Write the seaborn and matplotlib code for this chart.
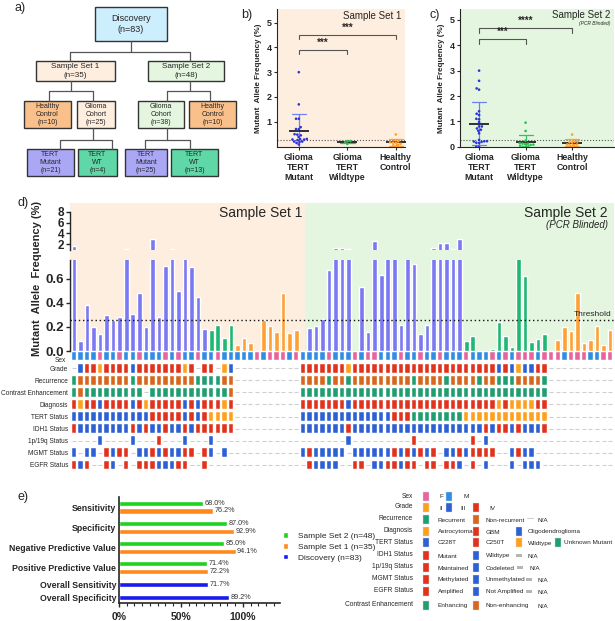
import numpy as np
import pandas as pd
import seaborn as sns
import matplotlib.pyplot as plt
from matplotlib.patches import Rectangle
from matplotlib.ticker import MultipleLocator

sns.set_style('ticks')
plt.rcParams['font.family'] = ['Liberation Sans', 'DejaVu Sans']

W, H = 615, 621

# ---- mutant allele frequency (%) per sample, in panel d order ----
set1_mutant = [1.7, 0.083, 0.386, 0.20, 0.144, 0.297, 0.26, 0.28, 1.12, 0.305, 0.48,
               0.20, 3.0, 0.283, 0.705, 1.12, 0.497, 0.78, 0.70, 0.45, 0.186]
set1_wildtype = [0.172, 0.22, 0.105, 0.22]
set1_healthy = [0.053, 0.108, 0.064, 0.0, 0.255, 0.205, 0.158, 0.486, 0.153, 0.172]
set2_mutant = [0.0, 0.19, 0.205, 0.27, 0.67, 1.3, 1.25, 1.08, 0.0, 0.53, 0.158, 2.6, 0.63,
               0.8, 0.8, 0.214, 0.97, 0.72, 0.144, 0.22, 1.4, 2.3, 2.25, 1.1, 3.0]
set2_wildtype = [0.083, 0.122, 0.0, 0.0, 0.014, 0.24, 0.122, 0.033, 0.95, 0.62, 0.072, 0.103, 0.139]
set2_healthy = [0.0, 0.089, 0.2, 0.164, 0.48, 0.067, 0.089, 0.205, 0.053, 0.172]
threshold = 0.26

# ---- clinical annotation per sample (N = not available) ----
na10 = "NNNNNNNNNN"
sex_codes = "MMMMFMMFMMFMMMFMFMMFMMFMM" "MMMFMFFFMF" "MMMMFMMMFMFFMMMFMMFMMFMMMFMMMFMFMFFFMF" "FFMFFFMMFF"
grade_codes = "N344244443444444424N44N23" + na10 + "44444442" "4444444444444444444444" "34323344" + na10
recur_codes = "RnnnnnnnnRnnnnnnnnnRRRRnn" + na10 + "nnnnRnnRnnnnnnnnnRnnnnRnnnnRnnRRRnnnnR" + na10
contrast_codes = "ExEEEEEEEEENEEEEEEEEEEEEx" + na10 + "EEEEEEEEEEEEEEEEEEEEEEEEEEEEEEEEEEEEEE" + na10
diag_codes = "GAGGOGGGGOGAGGGGGOGOGGGAG" + na10 + "GGGGGGGO" "GGGGGGGGGGGGGGGGGGGGGG" "AGAAAAGG" + na10
tert_codes = "bbbbbbbbbbbbrrrrrbrbrwwww" + na10 + "bbbbbbbbbbbbbbrrruuuuuuuuwwwwwwwwwwwww" + na10
idh_codes = "mWWWWWWWWmWmWWmWWmWmmmmmm" + na10 + "WWWWWWWmWWWWWWWWWWWWWWWWWWWWmWmmWmWWWm" + na10
codel_codes = "NNNNCNNNNCNNNMNNNCNNNCNNN" + na10 + "NNNNNNNCNNNNNNNNNMNNNNNNNNMNCNNNNNNNNN" + na10
mgmt_codes = "uNuuNmummNuumumuummNmuNuN" + na10 + "umuuuuuNuuuuuumumumumNuumummmmNNumuuNN" + na10
egfr_codes = "anaNNanNaNaaannnaaNNaNNNN" + na10 + "NannnnNNaaNnnaanaaNaaNaanNaNnNNNnNnnnN" + na10

# ---- panel e ----
metrics = ['Sensitivity', 'Specificity', 'Negative Predictive Value',
           'Positive Predictive Value', 'Overall Sensitivity', 'Overall Specificity']
set2_perf = [68.0, 87.0, 85.0, 71.4]
set1_perf = [76.2, 92.9, 94.1, 72.2]
discovery_perf = [71.7, 89.2]

# colours
PINK, SKY, ORANGE, BLUE, RED = '#e8649f', '#2f8de4', '#ffa01c', '#2c60d4', '#e2321d'
GREEN, DKORANGE, NAGRAY = '#1f9e70', '#d9661a', '#cfcfcf'
PEACH, MINT = '#fdeee0', '#e4f6df'
BAR_PAL = {'Mutant': '#7a78f2', 'Wildtype': '#1db872', 'Healthy': '#ffa035'}
DOT_PAL = {'Mutant': '#2a35dc', 'Wildtype': '#2dbf55', 'Healthy': '#ffa030'}
ERR_PAL = {'Mutant': '#7080f0', 'Wildtype': '#33c060', 'Healthy': '#ff9f30'}
E_PAL = {'Sample Set 2 (n=48)': '#1ed21e', 'Sample Set 1 (n=35)': '#ff8a1a',
         'Discovery (n=83)': '#1a1aee'}

maf = set1_mutant + set1_wildtype + set1_healthy + set2_mutant + set2_wildtype + set2_healthy
groups = (['Mutant'] * len(set1_mutant) + ['Wildtype'] * len(set1_wildtype) + ['Healthy'] * len(set1_healthy)
          + ['Mutant'] * len(set2_mutant) + ['Wildtype'] * len(set2_wildtype) + ['Healthy'] * len(set2_healthy))
n1 = len(set1_mutant) + len(set1_wildtype) + len(set1_healthy)
sets = ['Set 1'] * n1 + ['Set 2'] * (len(maf) - n1)
df = pd.DataFrame({'idx': range(len(maf)), 'maf': maf, 'group': groups, 'set': sets})
N = len(df)

fig = plt.figure(figsize=(6.15, 6.21), dpi=100)


def px_axes(x0, y0, x1, y1):
    return fig.add_axes([x0 / W, 1 - y1 / H, (x1 - x0) / W, (y1 - y0) / H])


GROUPS = ['Mutant', 'Wildtype', 'Healthy']
GROUP_LABELS = ['Glioma\nTERT\nMutant', 'Glioma\nTERT\nWildtype', 'Healthy\nControl']


def dot_panel(ax, sub, bg, xlim, ylim, yticks, sig):
    ax.set_facecolor(bg)
    ax.axhline(threshold, color='#555555', ls=':', lw=0.8, zorder=1)
    sns.swarmplot(data=sub, x='group', y='maf', hue='group', order=GROUPS, hue_order=GROUPS,
                  palette=DOT_PAL, size=1.9, legend=False, ax=ax, zorder=3)
    sns.pointplot(data=sub, x='group', y='maf', hue='group', order=GROUPS, hue_order=GROUPS,
                  palette=ERR_PAL, errorbar='sd', capsize=0.3, linestyle='none', markersize=0,
                  err_kws={'linewidth': 0.9}, legend=False, ax=ax)
    sns.pointplot(data=sub, x='group', y='maf', order=GROUPS, errorbar=None, color='#222222',
                  marker='_', markersize=14, markeredgewidth=1.3, linestyle='none', ax=ax)
    for (a, b, y, txt) in sig:
        ax.plot([a, a, b, b], [y - 0.18, y, y, y - 0.18], color='#555555', lw=0.8)
        ax.text((a + b) / 2, y + 0.08, txt, ha='center', va='bottom', fontsize=7, fontweight='bold')
    ax.set_xlim(*xlim)
    ax.set_ylim(*ylim)
    ax.set_yticks(yticks)
    ax.set_yticklabels([str(t) for t in yticks], fontsize=6.5, fontweight='bold')
    ax.set_xticks(range(3))
    ax.set_xticklabels(GROUP_LABELS, fontsize=6.3, fontweight='bold', linespacing=1.2)
    ax.set_xlabel('')
    ax.set_ylabel('Mutant  Allele Frequency (%)', fontsize=5.8, fontweight='bold', labelpad=3)
    ax.tick_params(length=2, width=0.8, pad=2)
    sns.despine(ax=ax)
    for s in ('left', 'bottom'):
        ax.spines[s].set_linewidth(0.8)


# ---- panel b ----
ax_b = px_axes(277, 9, 405, 147)
dot_panel(ax_b, df[df.set == 'Set 1'], PEACH, (-0.45, 2.19), (-0.02, 5.55), [1, 2, 3, 4, 5],
          [(0, 2, 4.5, '***'), (0, 1, 3.9, '***')])

# ---- panel c ----
ax_c = px_axes(460, 9, 614, 147)
dot_panel(ax_c, df[df.set == 'Set 2'], MINT, (-0.41, 2.9), (-0.01, 5.43), [0, 1, 2, 3, 4, 5],
          [(0, 2, 4.67, '****'), (0, 1, 4.24, '***')])

# ---- panel d ----
XL = (-0.6, N - 0.4)
split = n1 + 0.4
ax_bg = px_axes(70, 203, 614, 351)
ax_bg.set_xlim(*XL)
ax_bg.axvspan(XL[0], split, color=PEACH, lw=0)
ax_bg.axvspan(split, XL[1], color=MINT, lw=0)
ax_bg.axis('off')

ax_top = px_axes(70, 203, 614, 250)
ax_bot = px_axes(70, 260, 614, 351)
for ax in (ax_top, ax_bot):
    ax.set_facecolor('none')
    sns.barplot(data=df, x='idx', y='maf', hue='group', order=list(range(N)), palette=BAR_PAL,
                dodge=False, width=0.7, errorbar=None, saturation=1, legend=False, ax=ax)
    ax.set_xlim(*XL)
    ax.set_xticks([])
    ax.set_xlabel('')
    ax.set_ylabel('')
    for s in ('top', 'right', 'bottom'):
        ax.spines[s].set_visible(False)
    ax.spines['left'].set_linewidth(1.0)
    ax.tick_params(axis='y', length=3, width=1.0, pad=1)

ax_top.set_ylim(0.95, 9.6)
ax_top.set_yticks([2, 4, 6, 8])
ax_top.set_yticklabels(['2', '4', '6', '8'], fontsize=8.5, fontweight='bold')
ax_top.spines['left'].set_bounds(0.95, 8)
for lab in ax_top.get_yticklabels():
    lab.set_linespacing(0.8)

ax_bot.set_ylim(0, 0.756)
ax_bot.set_yticks([0, 0.2, 0.4, 0.6])
ax_bot.set_yticklabels(['0.0', '0.2', '0.4', '0.6'], fontsize=9.5, fontweight='bold')
ax_bot.axhline(threshold, color='#111111', ls=(0, (1, 2)), lw=1.0)

# annotation rows
rows = [
    ('Sex', sex_codes, {'F': PINK, 'M': SKY}),
    ('Grade', grade_codes, {'2': ORANGE, '3': BLUE, '4': RED}),
    ('Recurrence', recur_codes, {'R': GREEN, 'n': DKORANGE}),
    ('Contrast Enhancement', contrast_codes, {'E': GREEN, 'x': DKORANGE}),
    ('Diagnosis', diag_codes, {'A': ORANGE, 'G': RED, 'O': BLUE}),
    ('TERT Status', tert_codes, {'b': BLUE, 'r': RED, 'w': ORANGE, 'u': GREEN}),
    ('IDH1 Status', idh_codes, {'m': RED, 'W': BLUE}),
    ('1p/19q Status', codel_codes, {'M': RED, 'C': BLUE}),
    ('MGMT Status', mgmt_codes, {'m': RED, 'u': BLUE}),
    ('EGFR Status', egfr_codes, {'a': RED, 'n': BLUE}),
]
records = []
for r, (name, codes, cmap) in enumerate(rows):
    for i, c in enumerate(codes):
        records.append({'idx': i, 'row': r, 'color': cmap.get(c, 'NA')})
ann = pd.DataFrame(records)
cells = ann[ann.color != 'NA']
nas = ann[ann.color == 'NA']

RECT = [(-0.5, -1), (0.5, -1), (0.5, 1), (-0.5, 1), (-0.5, -1)]
ax_ann = px_axes(70, 350, 614, 471)
sns.scatterplot(data=cells, x='idx', y='row', hue='color',
                palette={c: c for c in cells.color.unique()}, marker=RECT, s=40,
                edgecolor='white', linewidth=0.3, legend=False, ax=ax_ann)
sns.scatterplot(data=nas, x='idx', y='row', color=NAGRAY, marker='_', s=12,
                linewidth=0.8, legend=False, ax=ax_ann)
ax_ann.set_xlim(*XL)
ax_ann.set_ylim(9.5, -0.5)
ax_ann.set_xticks([])
ax_ann.set_yticks(range(1, len(rows)))
ax_ann.set_yticklabels([r[0] for r in rows[1:]], fontsize=4.7)
ax_ann.tick_params(axis='y', length=0, pad=1.5)
ax_ann.set_xlabel('')
ax_ann.set_ylabel('')
for s in ax_ann.spines.values():
    s.set_visible(False)
ax_ann.set_facecolor('none')

# ---- panel e ----
pos = [g - 0.19 for g in range(4)] + [g + 0.19 for g in range(4)] + [3.84, 4.48]
perf = pd.DataFrame({
    'pos': pos,
    'value': set2_perf + set1_perf + discovery_perf,
    'series': ['Sample Set 2 (n=48)'] * 4 + ['Sample Set 1 (n=35)'] * 4 + ['Discovery (n=83)'] * 2,
})
ax_e = px_axes(119, 497, 280, 603)
sns.barplot(data=perf, x='value', y='pos', hue='series', palette=E_PAL, orient='y',
            native_scale=True, dodge=False, width=0.68, errorbar=None, saturation=1, ax=ax_e)
for cont in ax_e.containers:
    ax_e.bar_label(cont, fmt='%.1f%%', padding=1, fontsize=5.2, color='#333333')
ax_e.set_ylim(4.75, -0.5)
ax_e.set_yticks([0, 1, 2, 3, 3.84, 4.48])
ax_e.set_yticklabels(metrics, fontsize=6.3, fontweight='bold')
ax_e.set_xlim(0, 130)
ax_e.set_xticks([0, 50, 100])
ax_e.set_xticklabels(['0%', '50%', '100%'], fontsize=7.5, fontweight='bold')
ax_e.xaxis.set_minor_locator(MultipleLocator(6.25))
ax_e.tick_params(axis='x', which='major', length=3, width=1.0)
ax_e.tick_params(axis='x', which='minor', length=2, width=0.8)
ax_e.tick_params(axis='y', length=0, pad=2)
ax_e.set_xlabel('')
ax_e.set_ylabel('')
sns.despine(ax=ax_e)
for s in ('left', 'bottom'):
    ax_e.spines[s].set_linewidth(1.2)
old = ax_e.get_legend()
handles, labels = old.legend_handles, [t.get_text() for t in old.texts]
ax_e.legend(handles, labels, loc='center left', bbox_to_anchor=(279 / W, 1 - 547 / H),
            bbox_transform=fig.transFigure, frameon=False, fontsize=6, handlelength=0.6,
            handleheight=0.6, handletextpad=1.2, labelspacing=0.4, borderpad=0)

# ---- overlay: flowchart, texts and annotation key (pixel coordinates) ----
ov = fig.add_axes([0, 0, 1, 1])
ov.set_zorder(10)
ov.set_facecolor('none')
ov.set_xlim(0, W)
ov.set_ylim(H, 0)
ov.axis('off')

connectors = [((131, 41), (131, 52)), ((70, 52), (190, 52)), ((70, 52), (70, 61)), ((190, 52), (190, 61)),
              ((71, 81), (71, 91)), ((49, 91), (93, 91)), ((49, 91), (49, 101)), ((93, 91), (93, 101)),
              ((93, 128), (93, 140)), ((60, 140), (112, 140)), ((60, 140), (60, 149)), ((112, 140), (112, 149)),
              ((190, 81), (190, 91)), ((167, 91), (210, 91)), ((167, 91), (167, 101)), ((210, 91), (210, 101)),
              ((167, 128), (167, 140)), ((145, 140), (190, 140)), ((145, 140), (145, 149)), ((190, 140), (190, 149))]
for (x0, y0), (x1, y1) in connectors:
    ov.plot([x0, x1], [y0, y1], color='#555555', lw=0.9)

boxes = [
    (95, 7, 167, 41, 'Discovery\n(n=83)', '#cdeefc', 6.5),
    (36, 61, 115, 81, 'Sample Set 1\n(n=35)', PEACH, 5.8),
    (148, 61, 224, 81, 'Sample Set 2\n(n=48)', MINT, 5.8),
    (24, 101, 71, 128, 'Healthy\nControl\n(n=10)', '#f9c08c', 5.0),
    (77, 101, 115, 128, 'Glioma\nCohort\n(n=25)', PEACH, 5.0),
    (138, 101, 184, 128, 'Glioma\nCohort\n(n=38)', MINT, 5.0),
    (189, 101, 236, 128, 'Healthy\nControl\n(n=10)', '#f9c08c', 5.0),
    (27, 149, 74, 176, 'TERT\nMutant\n(n=21)', '#aaa8f5', 5.0),
    (78, 149, 117, 176, 'TERT\nWT\n(n=4)', '#5fd7a6', 5.0),
    (125, 149, 167, 176, 'TERT\nMutant\n(n=25)', '#aaa8f5', 5.0),
    (171, 149, 218, 176, 'TERT\nWT\n(n=13)', '#5fd7a6', 5.0),
]
for x0, y0, x1, y1, txt, fc, fs in boxes:
    ov.add_patch(Rectangle((x0, y0), x1 - x0, y1 - y0, facecolor=fc, edgecolor='#333333', lw=1.0))
    ov.text((x0 + x1) / 2, (y0 + y1) / 2, txt, ha='center', va='center', fontsize=fs, linespacing=1.25)

for x, y, t in [(20, 8, 'a)'), (247, 15, 'b)'), (435, 15, 'c)'), (23, 203, 'd)'), (23, 497, 'e)')]:
    ov.text(x, y, t, ha='center', va='center', fontsize=9)

ov.text(401, 16, 'Sample Set 1', ha='right', va='center', fontsize=7)
ov.text(610, 15, 'Sample Set 2', ha='right', va='center', fontsize=7)
ov.text(610, 23, '(PCR Blinded)', ha='right', va='center', fontsize=3.5, style='italic')
ov.text(302, 213, 'Sample Set 1', ha='right', va='center', fontsize=10)
ov.text(608, 213, 'Sample Set 2', ha='right', va='center', fontsize=10)
ov.text(608, 225, '(PCR Blinded)', ha='right', va='center', fontsize=7, style='italic')
ov.text(612, 314, 'Threshold', ha='right', va='center', fontsize=6)
ov.text(37, 278, 'Mutant  Allele  Frequency (%)', ha='center', va='center', rotation=90,
        fontsize=8, fontweight='bold')
ov.text(66, 361, 'Sex', ha='right', va='center', fontsize=4.7)

key_rows = [
    ('Sex', 496, [(426, PINK, 439, 'F'), (449, SKY, 463, 'M')]),
    ('Grade', 507, [(426, ORANGE, 439, 'II'), (449, BLUE, 460, 'III'), (476, RED, 489, 'IV')]),
    ('Recurrence', 519, [(426, GREEN, 438, 'Recurrent'), (476, DKORANGE, 486, 'Non-recurrent'),
                         (530, 'dash', 538, 'N/A')]),
    ('Diagnosis', 531, [(426, ORANGE, 438, 'Astrocytoma'), (476, RED, 486, 'GBM'),
                        (519, BLUE, 528, 'Oligodendroglioma')]),
    ('TERT Status', 542, [(426, BLUE, 438, 'C228T'), (476, RED, 486, 'C250T'), (519, ORANGE, 528, 'Wildtype'),
                          (558, GREEN, 564, 'Unknown Mutant')]),
    ('IDH1 Status', 555, [(426, RED, 438, 'Mutant'), (476, BLUE, 486, 'Wildtype'), (519, 'gray', 528, 'N/A')]),
    ('1p/19q Status', 567, [(426, RED, 438, 'Maintained'), (476, BLUE, 486, 'Codeleted'),
                            (520, 'gray', 529, 'N/A')]),
    ('MGMT Status', 579, [(426, RED, 438, 'Methylated'), (476, BLUE, 486, 'Unmethylated'),
                          (529, 'gray', 537, 'N/A')]),
    ('EGFR Status', 591, [(426, RED, 438, 'Amplified'), (476, BLUE, 486, 'Not Amplified'),
                          (529, 'gray', 537, 'N/A')]),
    ('Contrast Enhancement', 605, [(426, GREEN, 438, 'Enhancing'), (476, DKORANGE, 486, 'Non-enhancing'),
                                   (529, 'none', 537, 'N/A')]),
]
for label, y, entries in key_rows:
    ov.text(413, y, label, ha='right', va='center', fontsize=4.8)
    for xs, col, xt, txt in entries:
        if col == 'gray':
            ov.add_patch(Rectangle((xs - 3, y - 1.5), 6, 3, facecolor='#b5b5b5', lw=0))
        elif col == 'dash':
            ov.plot([xs - 3, xs + 3], [y - 1, y - 1], color='#d0d0d0', lw=0.8)
        elif col != 'none':
            ov.add_patch(Rectangle((xs - 3, y - 4.5), 6, 9, facecolor=col, edgecolor='#dddddd', lw=0.3))
        ov.text(xt, y + 1, txt, ha='left', va='center', fontsize=4.6)

fig.savefig('out.png', dpi=100)
